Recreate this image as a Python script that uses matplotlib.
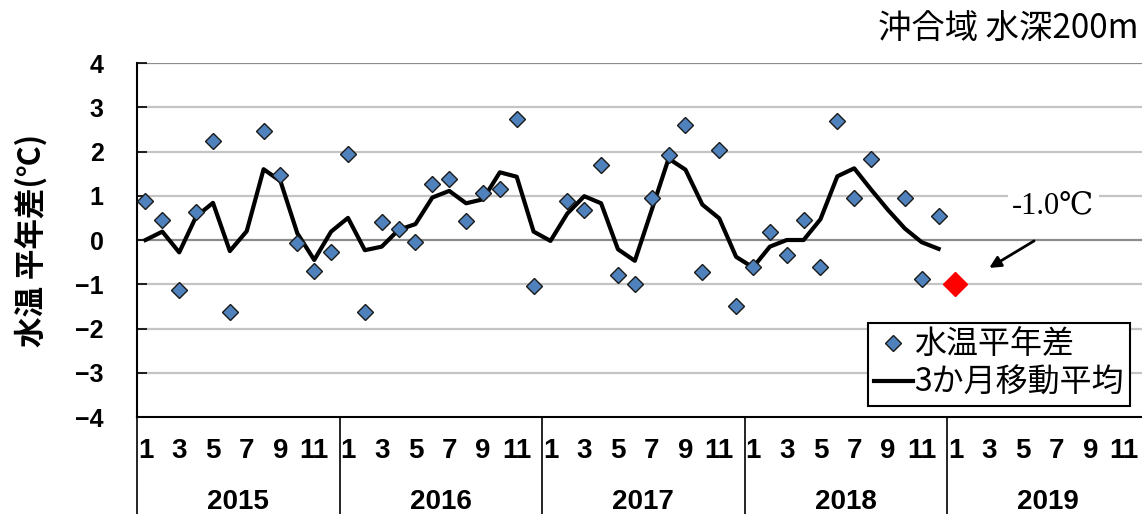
import numpy as np
import matplotlib.pyplot as plt
import matplotlib.transforms as mtransforms

years = ['2015', '2016', '2017', '2018', '2019']
month_labels = ['1', '3', '5', '7', '9', '11']

# 水温平年差 2015/1 - 2018/12 (nan = 欠測)
anom = [0.89, 0.46, -1.14, 0.63, 2.23, -1.63, np.nan, 2.47, 1.46, -0.06, -0.71, -0.26,
        1.94, -1.62, 0.41, 0.25, -0.04, 1.27, 1.38, 0.43, 1.06, 1.16, 2.74, -1.03,
        np.nan, 0.89, 0.67, 1.70, -0.79, -1.00, 0.95, 1.93, 2.60, -0.73, 2.04, -1.48,
        -0.62, 0.17, -0.34, 0.45, -0.62, 2.70, 0.95, 1.83, np.nan, 0.95, -0.89, 0.54]
# 3か月移動平均
ma3 = [0.00, 0.19, -0.28, 0.53, 0.84, -0.25, 0.20, 1.60, 1.33, 0.15, -0.45, 0.19,
       0.50, -0.23, -0.15, 0.23, 0.36, 0.96, 1.11, 0.83, 0.92, 1.53, 1.43, 0.19,
       -0.02, 0.60, 0.99, 0.83, -0.21, -0.47, 0.68, 1.84, 1.59, 0.80, 0.49, -0.38,
       -0.62, -0.15, 0.00, 0.00, 0.47, 1.44, 1.62, 1.14, 0.68, 0.26, -0.05, -0.20]
latest = [-1.0]  # 2019/1
latest_label = '-1.0℃'

cjk = ['Noto Sans CJK JP', 'DejaVu Sans']
num = ['Liberation Sans', 'DejaVu Sans']

n_months = 12 * len(years)
idx = np.arange(len(anom))

fig = plt.figure(figsize=(11.42, 5.14), dpi=100)
ax = fig.add_axes([0.12, 0.1887, 0.8866, 0.6887])

ax.set_xlim(-0.5, n_months - 0.5)
ax.set_ylim(-4, 4)
ax.set_yticks(range(-4, 5))
for v in range(-3, 5):
    ax.axhline(v, color='#8c8c8c' if v in (0, 4) else '#c4c4c4', lw=1.6, zorder=0)

ax.plot(idx, ma3, color='black', lw=3, zorder=2, label='3か月移動平均')
ax.plot(idx, anom, ls='none', marker='D', ms=8, mfc='#4f81bd', mec='#1a1a1a',
        mew=1.0, zorder=3, label='水温平年差')
ax.plot([len(anom)], latest, ls='none', marker='D', ms=12, mfc='#ff0000',
        mec='#ff0000', zorder=3)

# 注記と矢印
ax.text(53.8, 0.77, latest_label, ha='center', va='center', fontsize=22,
        family=['Liberation Serif', 'DejaVu Serif'],
        bbox=dict(fc='white', ec='none', pad=3), zorder=4)
ax.annotate('', xy=(50.0, -0.63), xytext=(52.66, -0.02),
            arrowprops=dict(arrowstyle='-|>', color='black', lw=2,
                            mutation_scale=17, shrinkA=0, shrinkB=0))

for s in ['top', 'right']:
    ax.spines[s].set_visible(False)
ax.spines['left'].set_linewidth(1.5)
ax.spines['bottom'].set_linewidth(1.5)
ax.tick_params(axis='y', direction='in', length=7, width=1.2, pad=24,
               labelsize=18)
for t in ax.get_yticklabels():
    t.set_family(num)
    t.set_fontweight('bold')
ax.set_xticks([])

trans = mtransforms.blended_transform_factory(ax.transData, ax.transAxes)
for y, yr in enumerate(years):
    for m, lab in enumerate(month_labels):
        ax.text(12 * y + 2 * m, -0.096, lab, transform=trans, ha='center',
                va='center', fontsize=20, fontweight='bold', family=num)
    ax.text(12 * y + 5.5, -0.24, yr, transform=trans, ha='center',
            va='center', fontsize=20, fontweight='bold', family=num)
    ax.plot([12 * y - 0.5] * 2, [0, -0.3], transform=trans, color='black',
            lw=1.2, clip_on=False)

ax.set_ylabel('水温 平年差(℃)', fontsize=22, fontweight='bold', family=cjk,
              labelpad=20)
fig.text(0.997, 0.942, '沖合域 水深200m', ha='right', va='center',
         fontsize=24, family=cjk)

h, l = ax.get_legend_handles_labels()
leg = ax.legend(h[::-1], l[::-1], loc='upper left',
                bbox_to_anchor=(0.760, 0.3716), bbox_transform=fig.transFigure,
                prop={'family': cjk, 'size': 23}, frameon=True, fancybox=False,
                framealpha=1, edgecolor='black', handlelength=1.2,
                handletextpad=0.05, borderpad=0.2, labelspacing=0.18,
                borderaxespad=0)
leg.get_frame().set_linewidth(1.5)

fig.savefig('out.png', dpi=100)
